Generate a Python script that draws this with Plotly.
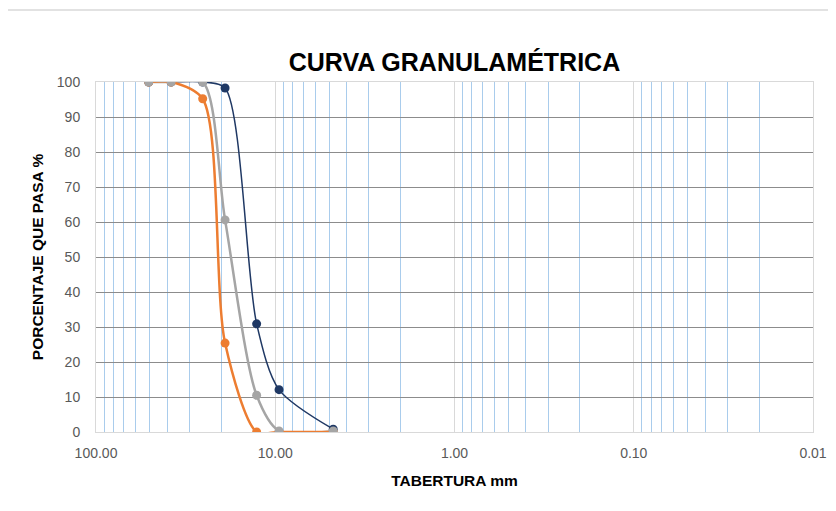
import plotly.graph_objects as go

# Sieve openings (mm)
abertura = [50.8, 38.1, 25.4, 19.05, 12.7, 9.525, 4.75]
serie_azul = [100, 100, 100, 98.3, 30.9, 12.1, 0.8]
serie_naranja = [100, 100, 95.2, 25.4, 0, 0, 0]
serie_gris = [100, 100, 100, 60.6, 10.5, 0.3, 0.3]

x_tickvals = [100, 10, 1, 0.1, 0.01]
x_ticktext = ["100.00", "10.00", "1.00", "0.10", "0.01"]
y_tickvals = list(range(0, 101, 10))

AZUL = "#1F3864"
NARANJA = "#ED7D31"
GRIS = "#A5A5A5"
FONT = "Liberation Sans, Arial, sans-serif"

# page body has an 8px offset; compensate margins so the plot area lands at
# screen x 96..813, y 82..432
OFF = 8
L, R, T, B = 96 - OFF, 836 - 813 + OFF, 82 - OFF, 511 - 432 + OFF

fig = go.Figure()

fig.add_trace(go.Scatter(x=abertura, y=serie_azul, mode="lines+markers",
                         line=dict(color=AZUL, width=1.5, shape="spline", smoothing=0.8),
                         marker=dict(color=AZUL, size=9), showlegend=False))
fig.add_trace(go.Scatter(x=abertura, y=serie_gris, mode="lines",
                         line=dict(color=GRIS, width=2.5, shape="spline", smoothing=0.8),
                         showlegend=False))
fig.add_trace(go.Scatter(x=abertura, y=serie_naranja, mode="lines+markers",
                         line=dict(color=NARANJA, width=2.5, shape="spline", smoothing=0.8),
                         marker=dict(color=NARANJA, size=9), showlegend=False))
fig.add_trace(go.Scatter(x=abertura, y=serie_gris, mode="markers",
                         marker=dict(color=GRIS, size=9), showlegend=False))

fig.update_layout(
    width=836, height=511,
    margin=dict(l=L, r=R, t=T, b=B),
    paper_bgcolor="white", plot_bgcolor="white",
    title=dict(text="<b>CURVA GRANULAMÉTRICA</b>", x=0.5, xanchor="center",
               xref="paper", y=1 - (62 - OFF) / 511, yanchor="middle",
               font=dict(family=FONT, size=25, color="#000000")),
    font=dict(family=FONT, color="#595959"),
)

fig.update_xaxes(
    type="log", range=[2, -2], autorange=False, automargin=False,
    tickvals=x_tickvals, ticktext=x_ticktext,
    tickfont=dict(size=14, color="#595959"), ticklabelstandoff=8,
    showgrid=True, gridcolor="#D9D9D9", gridwidth=1,
    minor=dict(dtick="D1", showgrid=True, gridcolor="#A9CCEC", gridwidth=1, ticks=""),
    showline=True, linecolor="#D9D9D9", linewidth=1, mirror=True,
    zeroline=False, ticks="", ticklen=0,
    title=dict(text="<b>TABERTURA mm</b>", font=dict(family=FONT, size=15.5, color="#000000"),
               standoff=15),
)
fig.update_yaxes(
    range=[0, 100], autorange=False, automargin=False,
    tickvals=y_tickvals,
    tickfont=dict(size=14, color="#595959"), ticklabelstandoff=12,
    showgrid=True, gridcolor="#8C8C8C", gridwidth=1,
    showline=True, linecolor="#D9D9D9", linewidth=1, mirror=True,
    zeroline=False, ticks="", ticklen=0,
    title=dict(text="<b>PORCENTAJE QUE PASA %</b>", font=dict(family=FONT, size=15.5, color="#000000"),
               standoff=9),
)

# chart area top border
fig.add_shape(type="line", xref="paper", yref="paper",
              x0=(5 - 96) / 717, x1=(836 - 96) / 717,
              y0=(432 - 10) / 350, y1=(432 - 10) / 350,
              line=dict(color="#D9D9D9", width=1.5), layer="below")

fig.write_html("out.html")
